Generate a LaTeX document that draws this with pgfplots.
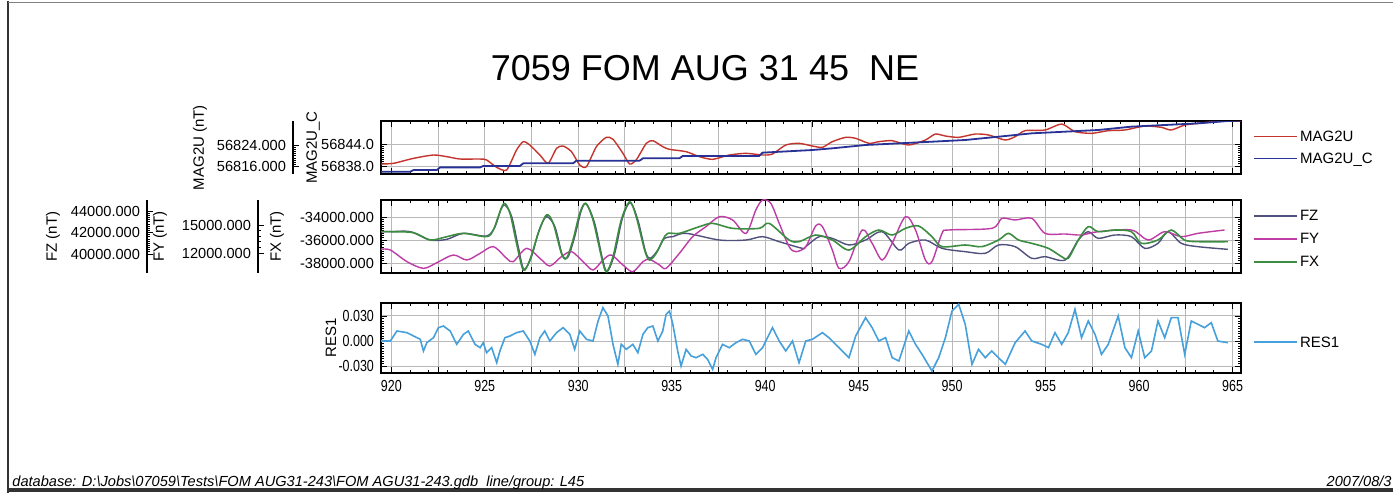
\documentclass[border=0pt]{standalone}
\usepackage{pgfplots}
\pgfplotsset{compat=1.18}
\usepackage{fontspec}
\setmainfont{Liberation Sans}
\newfontfamily\narrowfont{Liberation Sans}[FakeStretch=0.78]
\definecolor{cMag}{RGB}{196,52,44}
\definecolor{cMagC}{RGB}{40,50,150}
\definecolor{cFZ}{RGB}{80,80,125}
\definecolor{cFY}{RGB}{190,60,165}
\definecolor{cFX}{RGB}{60,140,65}
\definecolor{cRES}{RGB}{70,160,220}
\newcommand{\tf}{\fontsize{7.3}{8}\selectfont}
\newcommand{\lf}{\fontsize{7.5}{9}\selectfont}
\pgfplotsset{
  panel/.style={scale only axis, width=430pt, xmin=919.45, xmax=965.45, anchor=south west},
  frame/.style={panel, axis line style={line width=0.8pt}, tick align=inside,
    scaled y ticks=false, scaled x ticks=false,
    major tick length=3pt, minor tick length=1.5pt,
    xtick={920,925,...,965}, xticklabels={}, extra x ticks={922.5,927.5,...,962.5},
    extra x tick labels={}, extra x tick style={grid=major},
    minor x tick num=4, minor y tick num=9, xmajorgrids, ymajorgrids,
    major grid style={gray!55, line width=0.5pt},
    tick label style={font=\tf}, tick style={black, line width=0.4pt},
    ylabel style={at={(rel axis cs:0,0.5)}, anchor=center, font=\lf}},
  over/.style={panel, hide axis},
  bar/.style={scale only axis, width=1pt, xmin=0, xmax=1, axis x line=none, axis y line=left,
    scaled y ticks=false,
    axis line style={-, line width=0.6pt}, tick align=inside, major tick length=3pt,
    minor tick length=1.5pt, minor y tick num=9, tick label style={font=\tf},
    tick style={black, line width=0.4pt},
    ylabel style={at={(rel axis cs:0,0.5)}, anchor=center, font=\lf}, anchor=south west},
  leg/.style={legend style={at={(1,0.5)}, anchor=west, xshift=3pt, draw=none, fill=none,
    font=\lf, row sep=#1, nodes={inner sep=1pt, text height=6pt, text depth=1pt}},
    legend cell align=left,
    legend image code/.code={\draw[##1] (0pt,0pt) -- (21.5pt,0pt);}},
}
\begin{document}
\begin{tikzpicture}
\useasboundingbox (0,0) rectangle (696.5pt,247.5pt);
\fill[white] (0,0) rectangle (696.5pt,247.5pt);
% page frame
\draw[black!80, line width=1.2pt] (4pt,1pt) -- (4pt,247pt);
\draw[black!80, line width=1.6pt] (4pt,2.5pt) -- (696.5pt,2.5pt);
\draw[black!50, line width=0.4pt] (4pt,246.5pt) -- (696.5pt,246.5pt);
% title
\node[font=\fontsize{18}{20}\selectfont] at (352.5pt,213.5pt) {7059 FOM AUG 31 45~~NE};
% footer
\node[anchor=base west, inner sep=0pt, font=\itshape\fontsize{7.3}{9}\selectfont] at (6pt,4.5pt)
  {database: D:\textbackslash Jobs\textbackslash 07059\textbackslash Tests\textbackslash FOM AUG31-243\textbackslash FOM AGU31-243.gdb~~line/group: L45};
\node[anchor=base east, inner sep=0pt, font=\itshape\fontsize{7.3}{9}\selectfont] at (696pt,4.5pt) {2007/08/3};

% ================= TOP PANEL =================
\begin{axis}[frame, at={(190.5pt,160.5pt)}, height=26.5pt, ymin=56835.82, ymax=56850.27,
  ytick={56838,56844}, yticklabels={56838.0,56844.0},
  ylabel={MAG2U\_C}, ylabel style={yshift=34pt}]
\end{axis}
\begin{axis}[bar, at={(146.5pt,160.5pt)}, height=26.5pt, ymin=56813.3, ymax=56832.86,
  ytick={56816,56824}, yticklabels={56816.000,56824.000},
  ylabel={MAG2U (nT)}, ylabel style={yshift=46.5pt}]
\end{axis}
\begin{axis}[over, at={(190.5pt,160.5pt)}, height=26.5pt, ymin=56813.3, ymax=56832.86]
\addplot[cMag, line width=0.7pt, smooth, tension=0.4] table {
919.45 56816.99
920.12 56817.24
921.19 56819.08
922.26 56820.31
922.97 56819.70
923.68 56818.83
924.75 56818.83
925.10 56818.47
925.64 56815.76
926.17 56814.78
926.70 56822.16
927.06 56825.23
927.41 56824.00
927.95 56820.31
928.39 56817.24
928.84 56822.77
929.19 56823.63
929.64 56821.54
930.08 56816.62
930.44 56816.00
930.97 56823.39
931.50 56826.83
931.86 56826.09
932.39 56820.93
932.75 56816.99
933.10 56818.47
933.64 56824.62
933.99 56825.60
934.52 56823.39
934.88 56822.40
935.77 56821.54
936.48 56819.70
937.19 56818.71
938.08 56820.31
938.97 56820.93
939.86 56820.31
940.39 56820.68
941.10 56824.00
941.81 56824.62
942.52 56823.63
943.06 56823.14
943.59 56825.23
944.30 56826.83
944.84 56826.46
945.55 56824.62
946.08 56825.23
946.79 56825.60
947.68 56824.00
948.57 56825.85
949.10 56828.06
949.64 56827.32
950.35 56826.83
951.24 56828.06
951.95 56827.69
952.84 56825.85
953.37 56827.08
953.90 56829.29
954.97 56829.54
955.86 56831.75
956.57 56828.92
957.46 56828.31
958.35 56829.29
959.24 56829.54
960.30 56831.01
961.19 56830.52
961.72 56829.54
962.44 56831.38
963.15 56831.99
964.04 56832.61
964.75 56832.86
965.45 56832.90
};
\end{axis}
\begin{axis}[over, leg=2pt, at={(190.5pt,160.5pt)}, height=26.5pt, ymin=56835.82, ymax=56850.27]
\addlegendimage{cMag, line width=0.7pt}
\addlegendentry{MAG2U}
\addplot[cMagC, line width=0.9pt] table {
919.45 56836.45
921.01 56836.45
921.19 56836.91
922.44 56836.91
922.61 56837.63
924.75 56837.63
924.92 56838.00
926.88 56838.00
927.06 56838.73
929.72 56838.73
929.90 56839.45
933.28 56839.45
933.46 56840.09
935.41 56840.09
935.59 56840.73
939.68 56840.73
939.86 56841.64
942.52 56842.36
943.59 56842.82
945.37 56843.73
947.15 56844.18
948.92 56844.63
950.70 56845.09
952.48 56845.99
954.26 56846.91
956.04 56847.36
957.81 56847.82
959.59 56848.73
961.37 56849.18
963.15 56849.63
964.75 56850.27
965.45 56850.40
};
\addlegendentry{MAG2U\_C}
\end{axis}

% ================= MIDDLE PANEL =================
\begin{axis}[frame, at={(190.5pt,111pt)}, height=36.5pt, ymin=-38870, ymax=-32522,
  ytick={-38000,-36000,-34000}, yticklabels={-38000.000,-36000.000,-34000.000},
  ylabel={FX (nT)}, ylabel style={yshift=52pt}]
\end{axis}
\begin{axis}[bar, at={(73.5pt,111pt)}, height=36.5pt, ymin=38234, ymax=45023,
  ytick={40000,42000,44000}, yticklabels={40000.000,42000.000,44000.000},
  ylabel={FZ (nT)}, ylabel style={yshift=47pt}]
\end{axis}
\begin{axis}[bar, at={(129pt,111pt)}, height=36.5pt, ymin=9859, ymax=17677,
  ytick={12000,15000}, yticklabels={12000.000,15000.000}, minor y tick num=4,
  ylabel={FY (nT)}, ylabel style={yshift=49pt}]
\end{axis}
% FZ
\begin{axis}[over, at={(190.5pt,111pt)}, height=36.5pt, ymin=38234, ymax=45023]
\addplot[cFZ, line width=0.7pt, smooth, tension=0.5] table {
919.45 42078
919.95 42078
921.01 42078
922.08 41303
922.97 41365
923.86 41923
925.10 41675
925.55 42543
925.85 44093
926.08 44558
926.44 43473
926.79 40683
927.09 38575
927.50 39753
927.91 42233
928.30 43473
928.75 42543
929.15 39908
929.46 39753
929.81 41613
930.17 44093
930.44 44651
930.88 42853
931.29 39598
931.55 38358
931.95 40063
932.36 43318
932.78 44775
933.19 43163
933.60 40218
933.85 39598
934.26 40373
934.61 41458
935.06 41613
935.77 41923
937.55 41303
938.97 41303
939.86 41613
940.75 41148
941.99 40528
942.17 40683
942.88 41613
943.59 41458
944.48 40838
945.37 41303
946.26 42078
947.15 40373
947.68 40993
948.57 41303
949.46 40528
950.70 40218
951.77 40063
952.48 40838
953.37 40683
954.26 39598
954.97 39753
956.04 39443
956.75 41303
957.28 42078
957.81 41458
958.70 41768
959.59 41613
960.30 40528
961.01 40993
961.55 42078
962.26 40993
963.15 40683
964.75 40435
};
\end{axis}
% FY
\begin{axis}[over, at={(190.5pt,111pt)}, height=36.5pt, ymin=9859, ymax=17677]
\addplot[cFY, line width=0.7pt, smooth, tension=0.5] table {
919.45 12400
919.95 12322
920.84 11073
921.72 10359
922.44 10966
923.32 11787
924.04 11251
924.75 11965
925.46 12680
926.17 11430
926.52 11073
927.24 12501
927.95 11430
928.48 10609
929.10 11609
929.64 12144
930.26 11073
930.79 10180
931.32 11251
931.77 11787
932.39 10716
932.92 10002
933.46 11073
933.81 11323
934.35 10716
934.70 10359
935.41 11965
936.12 13751
936.83 14821
937.55 15893
938.26 15536
938.97 14107
939.50 16607
939.86 17677
940.30 17321
940.75 15179
941.28 12680
941.64 12144
942.17 12680
942.70 14893
943.06 14821
943.59 12322
943.95 10359
944.48 11073
945.19 14465
945.72 13036
946.26 11251
946.79 13036
947.50 15893
948.04 14465
948.57 11251
948.92 11073
949.46 14107
949.81 14465
952.12 14643
952.66 15714
953.37 15536
954.26 15714
954.97 14107
956.04 14036
956.92 13929
957.81 14286
959.59 14465
960.48 13393
961.37 14286
962.26 13751
963.15 14107
964.57 14465
};
\end{axis}
% FX
\begin{axis}[over, leg=2.5pt, legend style={yshift=-1.2pt}, at={(190.5pt,111pt)}, height=36.5pt, ymin=-38870, ymax=-32522]
\addlegendimage{cFZ, line width=0.7pt}
\addlegendentry{FZ}
\addlegendimage{cFY, line width=0.7pt}
\addlegendentry{FY}
\addplot[cFX, line width=0.8pt, smooth, tension=0.5] table {
919.45 -35276
919.95 -35276
921.19 -35363
922.08 -35999
922.97 -35711
923.86 -35421
925.10 -35711
925.46 -35131
925.72 -33971
926.03 -32812
926.35 -33681
926.70 -36290
927.06 -38610
927.41 -37740
927.86 -35421
928.30 -33826
928.66 -34551
929.10 -37160
929.37 -37595
929.72 -35999
930.08 -33681
930.40 -32812
930.79 -34261
931.24 -37450
931.50 -38755
931.86 -37450
932.30 -34261
932.75 -32667
933.10 -33971
933.55 -36870
933.81 -37740
934.17 -37160
934.52 -35999
934.79 -35421
935.41 -35421
936.48 -34841
937.19 -34551
938.26 -34986
939.68 -34986
940.21 -34551
941.28 -35999
941.81 -36145
942.70 -35566
943.59 -35999
944.48 -36870
945.37 -35711
946.08 -35131
946.79 -35566
947.50 -34986
948.21 -34783
948.92 -35711
949.46 -36580
950.70 -36435
951.59 -36580
952.48 -35999
953.01 -35421
953.55 -35999
954.26 -36290
955.15 -36725
955.86 -37450
956.21 -37595
956.75 -35999
957.28 -34841
957.81 -35276
958.70 -35131
959.59 -35276
960.12 -36290
961.01 -35999
961.72 -35131
962.42 -35999
963.15 -36145
964.75 -36145
};
\addlegendentry{FX}
\end{axis}

% ================= BOTTOM PANEL =================
\begin{axis}[frame, leg=2pt, legend style={yshift=-2pt}, at={(190.5pt,61pt)}, height=35pt, ymin=-0.0384, ymax=0.0456,
  ytick={-0.03,0,0.03}, yticklabels={-0.030,0.000,0.030},
  tick label style={font=\narrowfont\fontsize{8}{9}\selectfont},
  xticklabels={920,925,930,935,940,945,950,955,960,965},
  ylabel={RES1}, ylabel style={yshift=25pt}]
\addplot[cRES, line width=0.8pt] table {
919.45 0.000
919.95 0.000
920.30 0.012
920.84 0.010
921.19 0.006
921.55 0.002
921.72 -0.012
921.90 -0.002
922.26 0.004
922.52 0.016
922.79 0.018
923.15 0.012
923.50 -0.004
923.86 0.008
924.12 0.012
924.48 -0.004
924.75 -0.008
924.92 -0.002
925.10 -0.014
925.37 -0.008
925.64 -0.026
925.81 -0.012
926.08 0.004
926.35 0.006
926.70 0.010
927.06 0.012
927.41 0.000
927.68 -0.016
927.95 0.004
928.21 0.012
928.48 0.000
928.84 0.010
929.19 0.016
929.55 0.008
929.81 -0.010
930.08 0.012
930.44 0.002
930.79 0.000
931.06 0.024
931.32 0.040
931.59 0.030
931.86 -0.004
932.12 -0.028
932.30 -0.004
932.57 -0.010
932.92 -0.004
933.19 -0.014
933.46 0.008
933.72 0.016
933.99 0.018
934.26 0.000
934.52 0.012
934.70 0.032
934.88 0.036
935.06 0.020
935.32 -0.012
935.50 -0.030
935.77 -0.010
936.04 -0.018
936.30 -0.020
936.66 -0.016
936.92 -0.022
937.19 -0.034
937.37 -0.020
937.72 -0.004
938.08 -0.008
938.44 -0.002
938.79 0.002
939.15 0.000
939.50 -0.016
939.86 -0.008
940.21 0.008
940.39 0.016
940.75 0.000
941.10 -0.012
941.46 0.000
941.81 -0.026
942.17 0.000
942.52 0.002
943.06 0.010
943.41 0.004
943.95 -0.008
944.48 -0.020
944.84 0.006
945.37 0.028
945.72 0.016
946.08 0.000
946.44 0.004
946.79 -0.020
947.15 -0.024
947.68 0.012
948.04 -0.004
948.39 -0.016
948.92 -0.036
949.28 -0.020
949.64 0.004
949.99 0.036
950.35 0.044
950.70 0.020
951.06 -0.028
951.41 -0.010
951.77 -0.020
952.12 -0.012
952.48 -0.020
952.84 -0.028
953.37 -0.002
953.90 0.012
954.26 0.000
954.79 -0.004
955.15 -0.008
955.50 0.010
955.86 -0.004
956.21 0.010
956.57 0.038
956.92 0.004
957.28 0.024
957.64 0.008
957.99 -0.016
958.35 -0.004
958.88 0.030
959.24 -0.008
959.59 -0.020
959.95 0.012
960.30 -0.020
960.66 -0.012
961.01 0.024
961.37 0.004
961.72 0.028
962.08 0.028
962.44 -0.016
962.79 0.024
963.15 0.020
963.50 0.016
963.86 0.022
964.21 0.000
964.75 -0.002
};
\addlegendentry{RES1}
\end{axis}
\end{tikzpicture}
\end{document}
